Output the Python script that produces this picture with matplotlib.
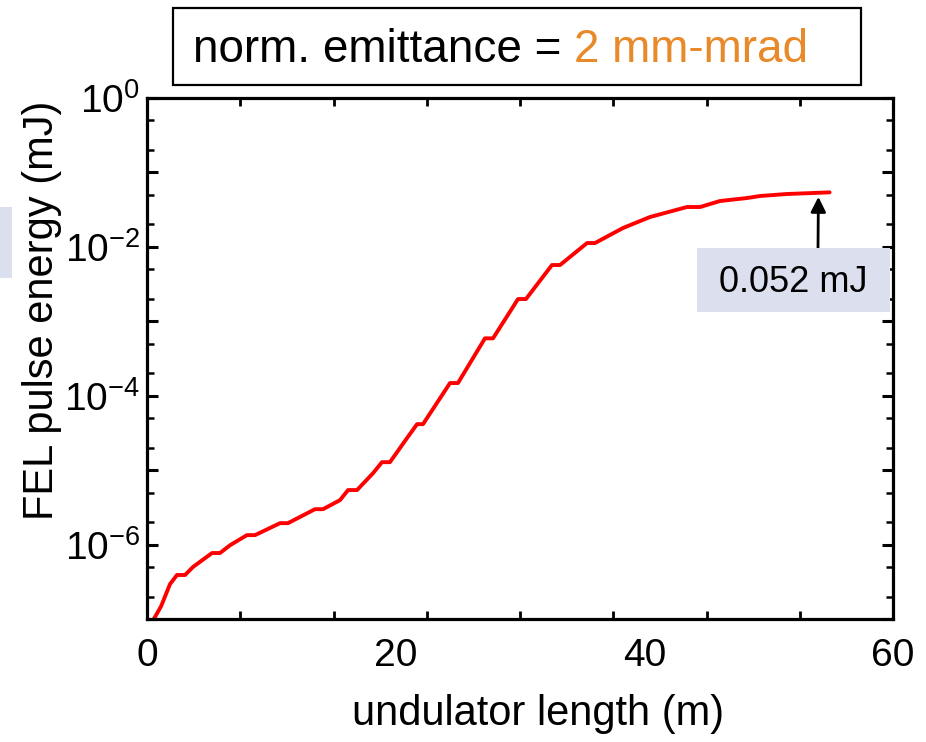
import matplotlib
matplotlib.use('Agg')
import matplotlib.pyplot as plt
from matplotlib.patches import Rectangle
from matplotlib.text import Annotation
from matplotlib.ticker import FixedLocator, FixedFormatter, NullFormatter
import numpy as np

plt.rcParams['font.family'] = ['Liberation Sans', 'DejaVu Sans']
plt.rcParams['mathtext.fontset'] = 'custom'
plt.rcParams['mathtext.rm'] = 'Liberation Sans'
plt.rcParams['mathtext.it'] = 'Liberation Sans:italic'
plt.rcParams['mathtext.bf'] = 'Liberation Sans:bold'

# ---- data ----
length_m = [0.55, 1.13, 1.85, 2.41, 3.06, 3.70, 5.23, 5.87, 6.68, 8.04, 8.69,
            10.70, 11.34, 13.51, 14.16, 15.52, 16.17, 16.89, 18.18, 18.90, 19.54,
            20.91, 21.72, 22.20, 24.37, 25.01, 27.18, 27.83, 29.84, 30.48, 32.57,
            33.22, 35.39, 36.03, 38.28, 40.46, 41.02, 43.43, 44.48, 46.09, 48.26,
            49.30, 51.47, 53.57, 54.90]
energy_mJ = [1.0e-7, 1.48e-7, 2.94e-7, 3.9e-7, 3.9e-7, 5.0e-7, 7.7e-7, 7.7e-7, 9.8e-7, 1.34e-6, 1.34e-6,
             1.94e-6, 1.94e-6, 2.99e-6, 2.99e-6, 3.95e-6, 5.4e-6, 5.4e-6, 9.1e-6, 1.28e-5, 1.28e-5,
             2.69e-5, 4.15e-5, 4.15e-5, 1.48e-4, 1.48e-4, 5.9e-4, 5.9e-4, 1.99e-3, 1.99e-3, 5.7e-3,
             5.7e-3, 1.125e-2, 1.125e-2, 1.79e-2, 2.52e-2, 2.67e-2, 3.43e-2, 3.43e-2, 4.13e-2, 4.53e-2,
             4.82e-2, 5.13e-2, 5.29e-2, 5.40e-2]

x_label_vals = [0, 20, 40, 60]
x_mark_vals = [0, 7.5, 15, 22.5, 30, 37.5, 45, 52.5, 60]
y_major_exp = [0, -1, -2, -3, -4, -5, -6, -7]
y_label_exp = [0, -2, -4, -6]

title_black = "norm. emittance = "
title_orange = "2 mm-mrad"
final_label = "0.052 mJ"
final_point = (54.0, 0.047)

W, H = 926, 742
def fx(px):
    return px / W
def fy(py):
    return 1 - py / H

fig = plt.figure(figsize=(W / 100, H / 100), dpi=100)
ax = fig.add_axes([fx(147), fy(619), fx(893) - fx(147), fy(98) - fy(619)])

ax.plot(length_m, energy_mJ, color='#FF0000', lw=2.8, solid_joinstyle='round',
        solid_capstyle='round')

ax.set_yscale('log')
ax.set_ylim(1e-7, 1)
ax.set_xlim(0, 60)

for s in ax.spines.values():
    s.set_linewidth(2.3)
    s.set_color('black')

# x ticks: labels at 0,20,40,60, marks every 7.5
ax.xaxis.set_major_locator(FixedLocator(x_label_vals))
ax.xaxis.set_major_formatter(FixedFormatter([str(v) for v in x_label_vals]))
ax.xaxis.set_minor_locator(FixedLocator(x_mark_vals))
ax.xaxis.set_minor_formatter(NullFormatter())
ax.tick_params(axis='x', which='major', length=0, labelsize=28, pad=14)
ax.tick_params(axis='x', which='minor', direction='in', length=6, width=2,
               top=True, bottom=True)

# y ticks
ymaj = [10.0 ** e for e in y_major_exp]
ymin = []
for e in y_major_exp:
    for m in (2, 5):
        v = m * 10.0 ** e
        if v < 1:
            ymin.append(v)
ax.yaxis.set_major_locator(FixedLocator(ymaj))
labels = []
for e in y_major_exp:
    if e in y_label_exp:
        labels.append(r'$\mathregular{10^{%d}}$' % e)
    else:
        labels.append('')
ax.yaxis.set_major_formatter(FixedFormatter(labels))
ax.yaxis.set_minor_locator(FixedLocator(ymin))
ax.yaxis.set_minor_formatter(NullFormatter())
ax.tick_params(axis='y', which='major', direction='in', length=8, width=2.2,
               left=True, right=True, labelsize=28, pad=5)
ax.tick_params(axis='y', which='minor', direction='in', length=5, width=1.8,
               left=True, right=True)

# axis labels
fig.text(fx(538), fy(714), "undulator length (m)", fontsize=30,
         ha='center', va='center')
fig.text(fx(42), fy(310), "FEL pulse energy (mJ)", fontsize=30,
         ha='center', va='center', rotation=90)

# title box
fig.patches.append(Rectangle((fx(173), fy(85)), fx(861) - fx(173), fy(8) - fy(85),
                             transform=fig.transFigure, facecolor='none',
                             edgecolor='black', lw=1.6))
t1 = fig.text(fx(193), fy(62), title_black, fontsize=33, ha='left', va='baseline',
              color='black')
orange = Annotation(title_orange, xy=(1, 0), xycoords=t1, xytext=(0, 0),
                    textcoords='offset points', fontsize=33, ha='left', va='bottom',
                    color='#E8892A', annotation_clip=False)
fig.add_artist(orange)

# annotation box
fig.patches.append(Rectangle((fx(697), fy(312)), fx(890) - fx(697), fy(248) - fy(312),
                             transform=fig.transFigure, facecolor='#DCE0EE',
                             edgecolor='none', zorder=5))
fig.text(fx(793), fy(292), final_label, fontsize=26, ha='center', va='baseline',
         zorder=6)
ax.annotate('', xy=final_point, xycoords='data',
            xytext=(fx(818), fy(248)), textcoords='figure fraction',
            arrowprops=dict(arrowstyle='-|>,head_length=0.9,head_width=0.45',
                            color='black', lw=2, shrinkA=0, shrinkB=0),
            annotation_clip=False)

# partial box at far left
fig.patches.append(Rectangle((0, fy(278)), fx(12), fy(207) - fy(278),
                             transform=fig.transFigure, facecolor='#DCE0EE',
                             edgecolor='none'))

fig.savefig('out.png', dpi=100)
